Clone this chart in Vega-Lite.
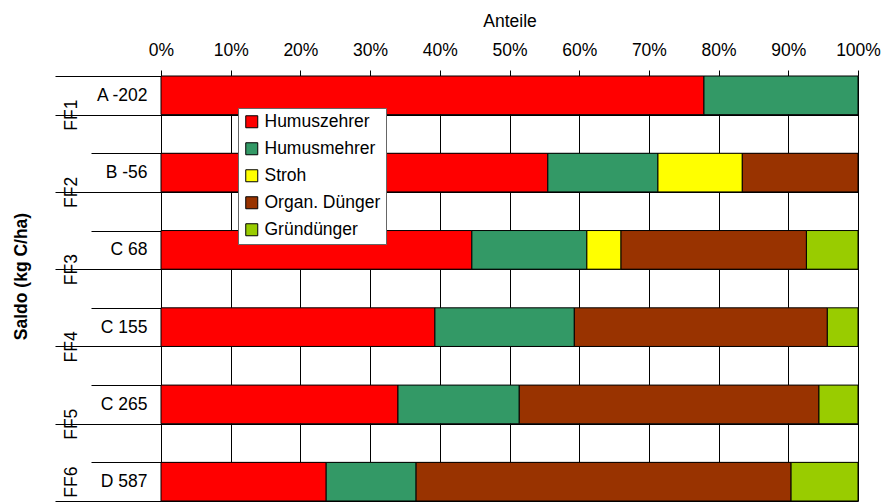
{
  "$schema": "https://vega.github.io/schema/vega-lite/v6.json",
  "autosize": {"type": "none"},
  "padding": {"left": 161, "top": 76, "right": 25, "bottom": 2},
  "width": 697,
  "height": 425,
  "config": {
    "font": "Liberation Sans",
    "view": {"stroke": null},
    "axis": {"labelFont": "Liberation Sans", "titleFont": "Liberation Sans", "labelColor": "black", "titleColor": "black"}
  },
  "data": {
    "values": [
      {"row": 1, "cat": "Humuszehrer", "v": 77.9},
      {"row": 1, "cat": "Humusmehrer", "v": 22.1},
      {"row": 3, "cat": "Humuszehrer", "v": 55.5},
      {"row": 3, "cat": "Humusmehrer", "v": 15.8},
      {"row": 3, "cat": "Stroh", "v": 12.1},
      {"row": 3, "cat": "Organ. Dünger", "v": 16.6},
      {"row": 5, "cat": "Humuszehrer", "v": 44.6},
      {"row": 5, "cat": "Humusmehrer", "v": 16.5},
      {"row": 5, "cat": "Stroh", "v": 4.9},
      {"row": 5, "cat": "Organ. Dünger", "v": 26.6},
      {"row": 5, "cat": "Gründünger", "v": 7.4},
      {"row": 7, "cat": "Humuszehrer", "v": 39.3},
      {"row": 7, "cat": "Humusmehrer", "v": 20.0},
      {"row": 7, "cat": "Organ. Dünger", "v": 36.3},
      {"row": 7, "cat": "Gründünger", "v": 4.4},
      {"row": 9, "cat": "Humuszehrer", "v": 34.0},
      {"row": 9, "cat": "Humusmehrer", "v": 17.4},
      {"row": 9, "cat": "Organ. Dünger", "v": 43.0},
      {"row": 9, "cat": "Gründünger", "v": 5.6},
      {"row": 11, "cat": "Humuszehrer", "v": 23.7},
      {"row": 11, "cat": "Humusmehrer", "v": 12.9},
      {"row": 11, "cat": "Organ. Dünger", "v": 53.8},
      {"row": 11, "cat": "Gründünger", "v": 9.6}
    ]
  },
  "transform": [
    {"calculate": "indexof(['Humuszehrer','Humusmehrer','Stroh','Organ. Dünger','Gründünger'], datum.cat)", "as": "ord"}
  ],
  "layer": [
    {
      "mark": {"type": "bar", "stroke": "black", "strokeWidth": 1},
      "encoding": {
        "y": {
          "field": "row", "type": "ordinal",
          "scale": {"domain": [1,2,3,4,5,6,7,8,9,10,11], "paddingInner": 0, "paddingOuter": 0},
          "axis": {
            "orient": "left",
            "title": null,
            "tickBand": "extent",
            "ticks": true,
            "tickSize": 70,
            "tickColor": "black",
            "domain": true,
            "domainColor": "black",
            "grid": true,
            "gridColor": "black",
            "gridOpacity": 1,
            "labelExpr": "datum.value >= 1 ? ['','A -202','','B -56','','C 68','','C 155','','C 265','','D 587'][datum.value] : ''",
            "labelPadding": -56,
            "labelFontSize": 17.5,
            "labelAlign": "right",
            "labelOverlap": false,
            "labelBound": false
          }
        },
        "x": {
          "field": "v", "type": "quantitative", "stack": "normalize",
          "scale": {"domain": [0, 1], "nice": false},
          "axis": {
            "orient": "top",
            "title": "Anteile",
            "titleFontSize": 17.5,
            "titleFontWeight": "normal",
            "titleY": -50,
            "titleBaseline": "alphabetic",
            "values": [0,0.1,0.2,0.3,0.4,0.5,0.6,0.7,0.8,0.9,1],
            "format": ".0%",
            "labelFontSize": 17.5,
            "labelBaseline": "alphabetic",
            "labelPadding": 15,
            "labelFlush": false,
            "labelOverlap": false,
            "tickSize": 6,
            "tickColor": "black",
            "domain": false,
            "grid": true,
            "gridColor": "black",
            "gridOpacity": 1
          }
        },
        "color": {
          "field": "cat", "type": "nominal",
          "scale": {
            "domain": ["Humuszehrer", "Humusmehrer", "Stroh", "Organ. Dünger", "Gründünger"],
            "range": ["#FF0000", "#339966", "#FFFF00", "#993300", "#99CC00"]
          },
          "legend": {
            "orient": "none",
            "legendX": 77,
            "legendY": 32,
            "title": null,
            "fillColor": "white",
            "strokeColor": "#666666",
            "padding": 5,
            "rowPadding": 8,
            "symbolType": "square",
            "symbolSize": 144,
            "symbolStrokeColor": "black",
            "symbolStrokeWidth": 1,
            "symbolOpacity": 1,
            "labelFontSize": 17.5,
            "labelFont": "Liberation Sans",
            "labelColor": "black",
            "labelOffset": 4,
            "labelLimit": 300
          }
        },
        "order": {"field": "ord", "type": "quantitative"}
      }
    },
    {
      "mark": {"type": "point", "opacity": 0},
      "encoding": {
        "y": {
          "field": "row", "type": "ordinal",
          "scale": {"domain": [1,2,3,4,5,6,7,8,9,10,11], "paddingInner": 0, "paddingOuter": 0},
          "axis": {
            "orient": "left",
            "values": [1,3,5,7,9,11],
            "tickBand": "extent",
            "ticks": true,
            "tickSize": 106,
            "tickColor": "black",
            "domain": false,
            "grid": false,
            "labelExpr": "datum.value >= 1 ? 'FF' + ((datum.value + 1) / 2) : ''",
            "labelAngle": -90,
            "labelAlign": "center",
            "labelBaseline": "alphabetic",
            "labelPadding": -21,
            "labelOffset": {"condition": {"test": "datum.value < 11", "value": 19.3}, "value": 0},
            "labelFontSize": 17.5,
            "labelOverlap": false,
            "labelBound": false,
            "title": "Saldo (kg C/ha)",
            "titleFontSize": 17.5,
            "titleFontWeight": "bold",
            "titleAngle": -90,
            "titleX": -131,
            "titleY": 200,
            "titleAlign": "center",
            "titleBaseline": "bottom"
          }
        }
      }
    }
  ],
  "resolve": {"axis": {"y": "independent"}}
}
